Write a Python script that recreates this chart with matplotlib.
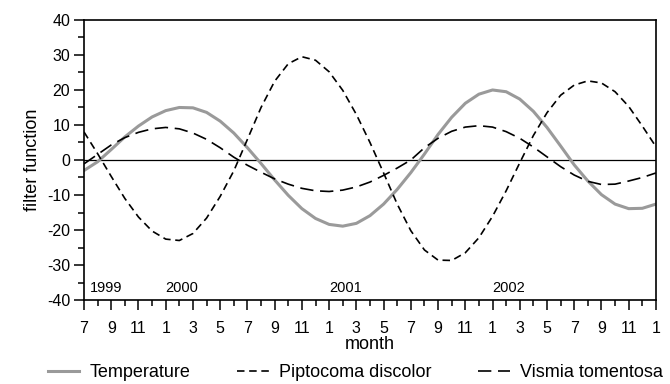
import numpy as np
import matplotlib
matplotlib.use("Agg")
import matplotlib.pyplot as plt
from matplotlib.ticker import MultipleLocator

plt.rcParams["font.family"] = ["Liberation Sans", "DejaVu Sans"]
plt.rcParams["axes.unicode_minus"] = False

# Monthly filter values, Jul 1999 .. Jan 2003
temperature = [-3.0, -0.5, 3.0, 6.6, 9.7, 12.3, 14.1, 15.0, 14.9, 13.6, 11.1,
               7.7, 3.5, -1.0, -5.7, -10.1, -13.9, -16.7, -18.4, -18.9, -18.1,
               -15.9, -12.6, -8.4, -3.6, 1.7, 7.3, 12.2, 16.2, 18.8, 20.0,
               19.5, 17.4, 13.9, 9.3, 4.0, -1.4, -6.0, -9.9, -12.6, -13.9,
               -13.8, -12.6]
piptocoma = [8.0, 1.8, -4.7, -11.0, -16.3, -20.3, -22.6, -23.0, -21.0, -16.6,
             -10.4, -3.1, 5.9, 15.0, 22.5, 27.5, 29.5, 28.5, 25.2, 19.9, 13.0,
             5.0, -3.7, -12.6, -20.2, -25.7, -28.6, -28.7, -26.5, -22.2,
             -16.1, -8.8, -0.8, 7.0, 13.5, 18.5, 21.4, 22.6, 22.0, 19.5, 15.3,
             9.7, 3.8]
vismia = [-1.1, 1.6, 4.3, 6.4, 7.9, 8.9, 9.3, 8.9, 7.7, 5.9, 3.5, 0.8, -1.5,
          -3.5, -5.4, -6.9, -8.1, -8.8, -9.0, -8.6, -7.7, -6.3, -4.4, -2.3,
          0.0, 3.5, 6.2, 8.2, 9.4, 9.8, 9.4, 8.1, 6.2, 3.7, 0.9, -1.9, -4.3,
          -6.1, -7.0, -6.9, -6.0, -5.0, -3.7]

month_labels = ["7", "9", "11", "1", "3", "5", "7", "9", "11", "1", "3", "5",
                "7", "9", "11", "1", "3", "5", "7", "9", "11", "1"]
years = ["1999", "2000", "2001", "2002"]
year_pos = [0.4, 6, 18, 30]

x = np.arange(len(temperature))

fig = plt.figure(figsize=(6.7, 3.84), dpi=100)
ax = fig.add_axes([0.1254, 0.2187, 0.8536, 0.7293])

ax.axhline(0, color="black", lw=0.9, zorder=1)
ax.plot(x, temperature, color="#9a9a9a", lw=2.2, label="Temperature", zorder=2)
ax.plot(x, piptocoma, color="black", lw=1.2, dashes=(4.5, 2.8),
        label="Piptocoma discolor", zorder=3)
ax.plot(x, vismia, color="black", lw=1.2, dashes=(8, 4),
        label="Vismia tomentosa", zorder=3)

for yr, p in zip(years, year_pos):
    ax.text(p, -36.5, yr, fontsize=10.5, ha="left", va="center")

ax.set_xlim(0, 42)
ax.set_ylim(-40, 40)
ax.set_xticks(np.arange(0, 43, 2))
ax.set_xticklabels(month_labels)
ax.xaxis.set_minor_locator(MultipleLocator(1))
ax.yaxis.set_major_locator(MultipleLocator(10))
ax.yaxis.set_minor_locator(MultipleLocator(5))

ax.tick_params(axis="both", which="major", direction="out", length=7,
               width=1.1, labelsize=11.5)
ax.tick_params(axis="both", which="minor", direction="out", length=4,
               width=1.1)
ax.tick_params(axis="x", which="major", pad=8)
ax.tick_params(axis="y", which="major", pad=3)
for s in ax.spines.values():
    s.set_linewidth(1.2)

ax.set_xlabel("month", fontsize=13, labelpad=0)
ax.set_ylabel("filter function", fontsize=13, labelpad=4)

fig.legend(loc="lower center", bbox_to_anchor=(0.53, -0.035), ncol=3,
           frameon=False, fontsize=13, handlelength=1.75, columnspacing=2.6,
           handletextpad=0.55)

fig.savefig("out.png", dpi=100)
